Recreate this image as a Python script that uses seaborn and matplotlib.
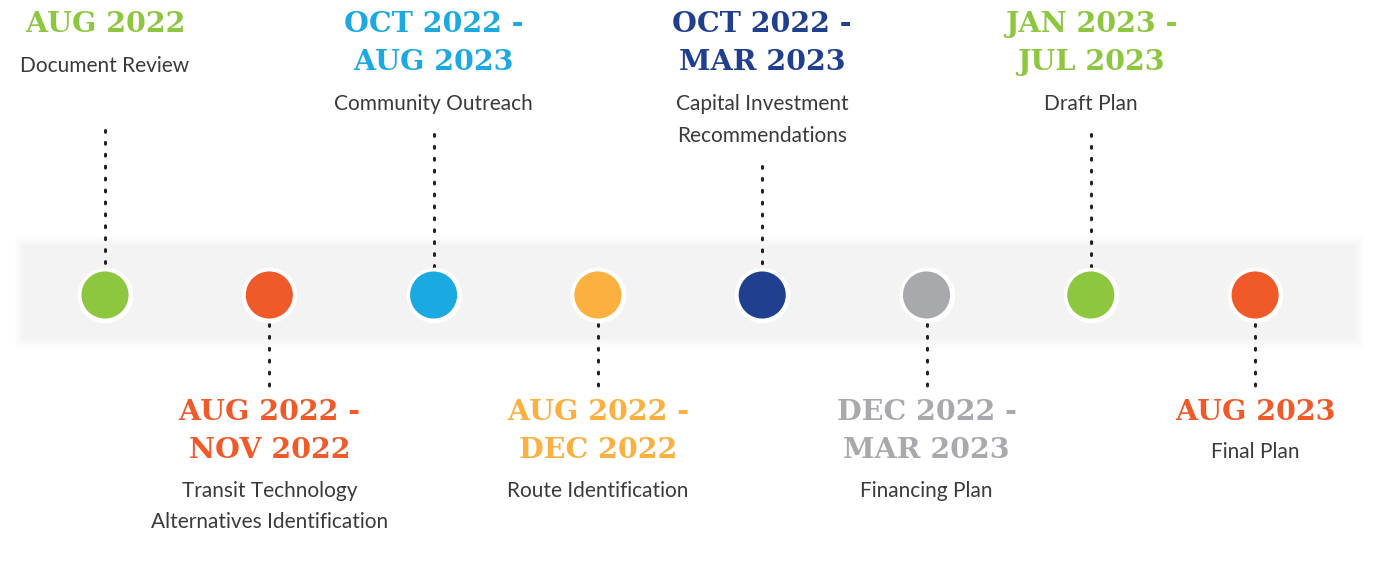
# Project schedule timeline, milestones alternate above / below a faint band

import numpy as np
import pandas as pd
import seaborn as sns
import matplotlib.pyplot as plt

dates = ["AUG 2022", "AUG 2022 -\nNOV 2022", "OCT 2022 -\nAUG 2023", "AUG 2022 -\nDEC 2022",
         "OCT 2022 -\nMAR 2023", "DEC 2022 -\nMAR 2023", "JAN 2023 -\nJUL 2023", "AUG 2023"]
tasks = ["Document Review", "Transit Technology\nAlternatives Identification",
         "Community Outreach", "Route Identification",
         "Capital Investment\nRecommendations", "Financing Plan", "Draft Plan", "Final Plan"]
colors = ["#8dc63f", "#f05a28", "#1ba9e1", "#fbb040", "#213f8f", "#a7a9ac", "#8dc63f", "#f05a28"]
sides = ["up", "down", "up", "down", "up", "down", "up", "down"]

def go():
    sns.set_theme(style="white")
    fig = plt.figure(figsize=(13.91, 5.63), dpi=100)
    ax = fig.add_axes([0, 0, 1, 1])
    ax.set_xlim(-0.639, 7.827)
    ax.set_ylim(563, 0)
    ax.axis("off")

    # faint band with soft edges (stacked translucent layers)
    for k in range(6):
        ax.fill_between([-0.55 + 0.01 * k, 7.66 - 0.01 * k], 236 + 2 * k, 349 - 2 * k,
                        color="#c8c8c8", alpha=0.035, lw=0, zorder=0)

    df = pd.DataFrame({"pos": np.arange(len(dates)), "y": 295.0, "c": colors})
    # white halo then dot
    ax.scatter(df["pos"], df["y"], s=1600, color="white", zorder=2, lw=0)
    sns.scatterplot(data=df, x="pos", y="y", hue="c", palette=dict(zip(colors, colors)),
                    s=1150, linewidth=0, legend=False, ax=ax, zorder=3)

    for i, (d, t, c, s) in enumerate(zip(dates, tasks, colors, sides)):
        nd = d.count("\n") + 1
        nt = t.count("\n") + 1
        if s == "up":
            y0 = 25
            ydate = [y0 + 38 * k for k in range(nd)]
            ytask = [ydate[-1] + 41 + 32 * k for k in range(nt)]
            top = max(ytask[-1] + 30, 130)
            ax.plot([i, i], [top, 268], color="#222222", lw=2.2,
                    linestyle=(0, (0.6, 3.3)), dash_capstyle="round", zorder=1)
        else:
            y0 = 412
            ydate = [y0 + 38 * k for k in range(nd)]
            ytask = [ydate[-1] + (41 if nd > 1 else 40) + 31 * k for k in range(nt)]
            ax.plot([i, i], [324, 390], color="#222222", lw=2.2,
                    linestyle=(0, (0.6, 3.3)), dash_capstyle="round", zorder=1)
        for yy, line in zip(ydate, d.split("\n")):
            ax.text(i, yy, line, ha="center", va="center", color=c, fontsize=20.5,
                    fontweight="bold", family="DejaVu Serif")
        for yy, line in zip(ytask, t.split("\n")):
            ax.text(i, yy, line, ha="center", va="center", color="#3a3a3a", fontsize=15,
                    fontweight="normal", family="Lato")

    fig.savefig("out.png", dpi=100)

if __name__ == '__main__':
    go()
